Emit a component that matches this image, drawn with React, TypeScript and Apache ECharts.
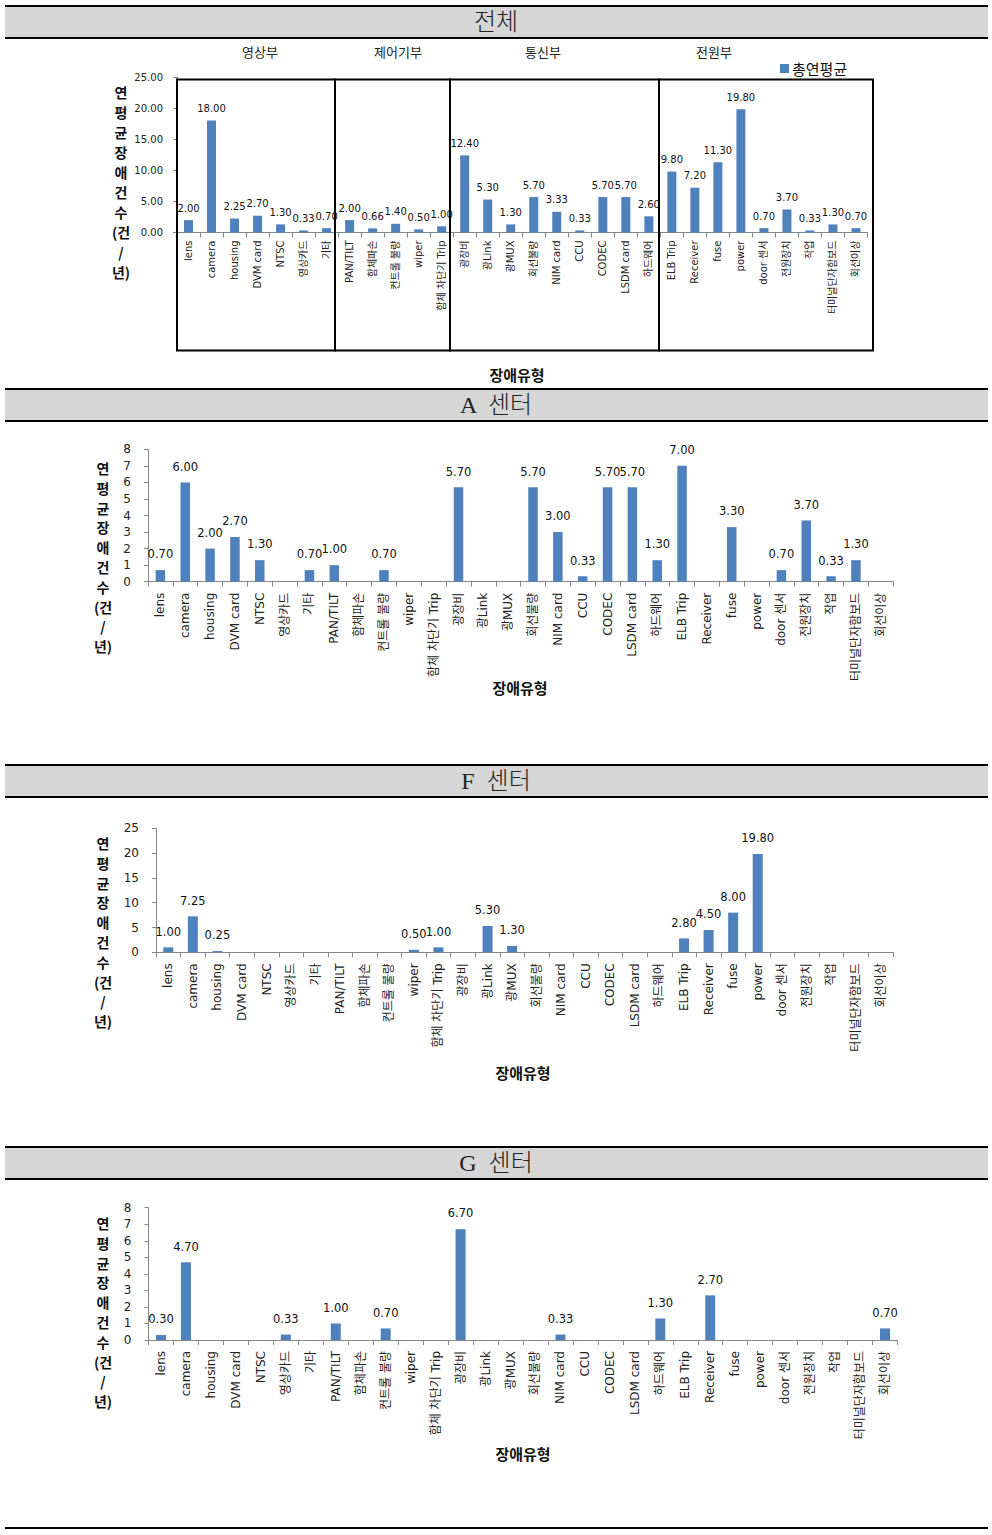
import React, { useEffect, useRef } from "react";
import * as echarts from "echarts";

const categories = [
  "lens", "camera", "housing", "DVM card", "NTSC", "영상카드", "기타",
  "PAN/TILT", "함체파손", "컨트롤 불량", "wiper", "함체 차단기 Trip",
  "광장비", "광Link", "광MUX", "회선불량", "NIM card", "CCU", "CODEC", "LSDM card", "하드웨어",
  "ELB Trip", "Receiver", "fuse", "power", "door 센서", "전원장치", "작업", "터미널단자함보드", "회선이상",
];
const totalAvg = [2.0, 18.0, 2.25, 2.7, 1.3, 0.33, 0.7, 2.0, 0.66, 1.4, 0.5, 1.0, 12.4, 5.3, 1.3, 5.7, 3.33, 0.33, 5.7, 5.7, 2.6, 9.8, 7.2, 11.3, 19.8, 0.7, 3.7, 0.33, 1.3, 0.7];
const centerA = [0.7, 6.0, 2.0, 2.7, 1.3, null, 0.7, 1.0, null, 0.7, null, null, 5.7, null, null, 5.7, 3.0, 0.33, 5.7, 5.7, 1.3, 7.0, null, 3.3, null, 0.7, 3.7, 0.33, 1.3, null];
const centerF = [1.0, 7.25, 0.25, null, null, null, null, null, null, null, 0.5, 1.0, null, 5.3, 1.3, null, null, null, null, null, null, 2.8, 4.5, 8.0, 19.8, null, null, null, null, null];
const centerG = [0.3, 4.7, null, null, null, 0.33, null, 1.0, null, 0.7, null, null, 6.7, null, null, null, 0.33, null, null, null, 1.3, null, 2.7, null, null, null, null, null, null, 0.7];
const groupNames = ["영상부", "제어기부", "통신부", "전원부"];
const sectionTitles = ["전체", "A  센터", "F  센터", "G  센터"];
const seriesNames = ["총연평균", "A 센터", "F 센터", "G 센터"];
const yMax = [25, 8, 25, 8];
const yInterval = [5, 1, 5, 1];
const xAxisTitle = "장애유형";
const yAxisTitle = "연\n평\n균\n장\n애\n건\n수\n(건\n/\n년)";

const FONT = "'DejaVu Sans', 'Noto Sans CJK KR', sans-serif";
const KFONT = "'Noto Sans CJK KR', 'DejaVu Sans', sans-serif";
const SERIF = "'Liberation Serif', 'DejaVu Serif', 'Noto Sans CJK KR', serif";
const BLUE = "#4F81BD";
const AXIS = "#868686";

const layout = [
  { grid: { left: 177, top: 77, width: 690.5, height: 155.5 }, fs: 10, lfs: 10, yfs: 10, ymargin: 14, xmargin: 8, bw: 9, dec: 2, dist: 7 },
  { grid: { left: 148, top: 449.3, width: 745.2, height: 132.4 }, fs: 12, lfs: 11.5, yfs: 12, ymargin: 17, xmargin: 11, bw: 9.5, dec: 0, dist: 10 },
  { grid: { left: 156, top: 828.3, width: 736.8, height: 124 }, fs: 12, lfs: 11.5, yfs: 12, ymargin: 17, xmargin: 11, bw: 10, dec: 0, dist: 10 },
  { grid: { left: 148.5, top: 1207.7, width: 749, height: 132.3 }, fs: 12, lfs: 11.5, yfs: 12, ymargin: 17, xmargin: 11, bw: 10, dec: 0, dist: 10 },
];
const bands = [6, 389, 765, 1147];
const yTitlePos = [[121, 82], [103, 458], [103, 833], [103, 1213]];
const xTitlePos = [[517, 374], [520, 687], [523, 1072], [523, 1453]];
const groupLabelPos = [[260, 51], [398, 51], [543, 51], [714, 51]];
const boxEdges = [177, 335, 450, 659, 873];

export default function App() {
  const ref = useRef<HTMLDivElement>(null);
  useEffect(() => {
    if (!ref.current) return;
    const chart = echarts.init(ref.current, null, { renderer: "svg" });
    const datasets = [totalAvg, centerA, centerF, centerG];

    const graphic: any[] = [];
    bands.forEach((y, i) => {
      graphic.push({ type: "rect", shape: { x: 5, y, width: 983, height: 32 }, style: { fill: "#D6D6D6" }, z: 0 });
      graphic.push({ type: "line", shape: { x1: 5, y1: y, x2: 988, y2: y }, style: { stroke: "#000", lineWidth: 2 } });
      graphic.push({ type: "line", shape: { x1: 5, y1: y + 32, x2: 988, y2: y + 32 }, style: { stroke: "#000", lineWidth: 2 } });
      graphic.push({
        type: "text", x: 496, y: y + 16,
        style: { text: sectionTitles[i], fill: "#222", font: `300 24px ${SERIF}`, textAlign: "center", textVerticalAlign: "middle" },
      });
    });
    graphic.push({ type: "line", shape: { x1: 5, y1: 1528, x2: 988, y2: 1528 }, style: { stroke: "#000", lineWidth: 2 } });
    for (let i = 0; i < 4; i++) {
      graphic.push({
        type: "rect",
        shape: { x: boxEdges[i], y: 79.5, width: boxEdges[i + 1] - boxEdges[i], height: 271 },
        style: { fill: "none", stroke: "#000", lineWidth: 2 },
        z: 10,
      });
      graphic.push({
        type: "text", x: groupLabelPos[i][0], y: groupLabelPos[i][1],
        style: { text: groupNames[i], fill: "#222", font: `13px ${KFONT}`, textAlign: "center", textVerticalAlign: "middle" },
      });
    }
    for (let i = 0; i < 4; i++) {
      graphic.push({
        type: "text", x: yTitlePos[i][0], y: yTitlePos[i][1],
        style: { text: yAxisTitle, fill: "#111", font: `bold 14px ${KFONT}`, textAlign: "center", textVerticalAlign: "top", lineHeight: i === 0 ? 20 : 19.8 },
      });
      graphic.push({
        type: "text", x: xTitlePos[i][0], y: xTitlePos[i][1],
        style: { text: xAxisTitle, fill: "#111", font: `bold 15px ${KFONT}`, textAlign: "center", textVerticalAlign: "middle" },
      });
    }

    const option: any = {
      animation: false,
      backgroundColor: "#fff",
      legend: {
        data: [seriesNames[0]],
        left: 775, top: 56,
        itemWidth: 9, itemHeight: 9, icon: "rect", itemGap: 4,
        textStyle: { fontSize: 15, color: "#111", fontFamily: KFONT, padding: [0, 0, 0, -2] },
      },
      grid: layout.map((l) => ({ ...l.grid, containLabel: false })),
      xAxis: layout.map((l, i) => ({
        type: "category",
        gridIndex: i,
        data: categories,
        axisLine: { lineStyle: { color: AXIS, width: 1 } },
        axisTick: { show: true, length: 5, interval: 0, lineStyle: { color: AXIS } },
        axisLabel: { interval: 0, rotate: 90, fontSize: l.fs, color: "#222", fontFamily: FONT, margin: l.xmargin },
      })),
      yAxis: layout.map((l, i) => ({
        type: "value",
        gridIndex: i,
        min: 0, max: yMax[i], interval: yInterval[i],
        axisLine: { show: true, lineStyle: { color: AXIS, width: 1 } },
        axisTick: { show: true, length: 4, lineStyle: { color: AXIS } },
        splitLine: { show: false },
        axisLabel: {
          fontSize: l.yfs, color: "#222", fontFamily: FONT, margin: l.ymargin,
          formatter: (v: number) => v.toFixed(l.dec),
        },
      })),
      series: layout.map((l, i) => ({
        type: "bar",
        name: seriesNames[i],
        xAxisIndex: i, yAxisIndex: i,
        data: datasets[i],
        barWidth: l.bw,
        itemStyle: { color: BLUE },
        label: {
          show: true, position: "top", distance: l.dist,
          fontSize: l.lfs, color: "#111", fontFamily: FONT,
          formatter: (p: any) => (p.value == null ? "" : Number(p.value).toFixed(2)),
        },
      })),
      graphic,
    };
    chart.setOption(option);
    return () => chart.dispose();
  }, []);
  return <div ref={ref} style={{ position: "absolute", left: 0, top: 0, width: 992, height: 1535 }} />;
}
